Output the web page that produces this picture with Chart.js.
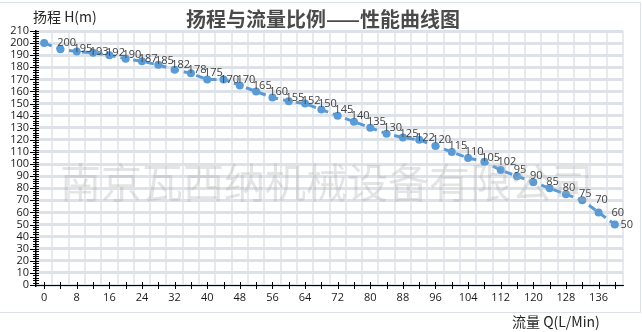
<!DOCTYPE html>
<html>
<head>
<meta charset="utf-8">
<script src="https://cdn.jsdelivr.net/npm/chart.js@4.4.1/dist/chart.umd.min.js"></script>
<style>
html,body{margin:0;padding:0;background:#fff;}
#wrap{position:relative;width:642px;height:332px;overflow:hidden;background:#fff;}
#c{position:absolute;left:0;top:0;}
.frame{position:absolute;left:0;top:2px;width:641px;height:311px;box-sizing:border-box;border:1px solid #DCE1E8;border-left:none;}
.title{position:absolute;left:0;width:646px;top:4px;text-align:center;font:bold 20px "Noto Sans CJK SC",sans-serif;color:#4a4a4a;white-space:nowrap;}
.ytitle{position:absolute;left:33px;top:6px;font:14px "Noto Sans CJK SC","Open Sans",sans-serif;color:#262626;white-space:nowrap;}
.xtitle{position:absolute;left:512px;top:311px;font:14px "Noto Sans CJK SC","Open Sans",sans-serif;color:#262626;white-space:nowrap;}
.wm{position:absolute;left:60px;top:150px;font:41px "Noto Sans CJK SC",sans-serif;color:rgba(170,170,170,0.32);white-space:nowrap;pointer-events:none;}
</style>
</head>
<body>
<div id="wrap">
  <div class="frame"></div>
  <canvas id="c" width="642" height="332"></canvas>
  <div class="title">扬程与流量比例——性能曲线图</div>
  <div class="ytitle">扬程 H(m)</div>
  <div class="xtitle">流量 Q(L/Min)</div>
  <div class="wm">南京瓦西纳机械设备有限公司</div>
</div>
<script>
// ---- data ----
const flowValues = [0,4,8,12,16,20,24,28,32,36,40,44,48,52,56,60,64,68,72,76,80,84,88,92,96,100,104,108,112,116,120,124,128,132,136,140];
const headValues = [200,195,193,192,190,187,185,182,178,175,170,170,165,160,155,152,150,145,140,135,130,125,122,120,115,110,105,102,95,90,85,80,75,70,60,50];
const xTickLabels = [0,8,16,24,32,40,48,56,64,72,80,88,96,104,112,120,128,136];
const yTickLabels = [0,10,20,30,40,50,60,70,80,90,100,110,120,130,140,150,160,170,180,190,200,210];

const points = flowValues.map((x,i)=>({x:x,y:headValues[i]}));

const axisMarks = {
  id:'axisMarks',
  afterDraw(chart){
    const ctx = chart.ctx, xs = chart.scales.x, ys = chart.scales.y;
    const left = chart.chartArea.left, bottom = chart.chartArea.bottom;
    ctx.save();
    ctx.strokeStyle = '#000';
    ctx.lineWidth = 1;
    ctx.beginPath();
    for (let v = 0; v <= 210; v += 2) {
      const py = Math.round(ys.getPixelForValue(v)) + 0.5;
      ctx.moveTo(left - 3, py); ctx.lineTo(left + 3, py);
    }
    yTickLabels.forEach(v=>{
      const py = Math.round(ys.getPixelForValue(v)) + 0.5;
      ctx.moveTo(left - 6, py); ctx.lineTo(left, py);
    });
    for (let v = 0; v <= 140; v += 4) {
      const px = Math.round(xs.getPixelForValue(v)) + 0.5;
      ctx.moveTo(px, bottom - 3); ctx.lineTo(px, bottom + 4);
    }
    ctx.moveTo(left - 3, bottom + 0.5); ctx.lineTo(left, bottom + 0.5);
    ctx.stroke();
    ctx.restore();
  }
};

const valueLabels = {
  id:'valueLabels',
  afterDatasetsDraw(chart){
    const ctx = chart.ctx;
    const meta = chart.getDatasetMeta(0);
    ctx.save();
    ctx.font = '11px "Open Sans", sans-serif';
    ctx.fillStyle = '#404040';
    ctx.textBaseline = 'middle';
    ctx.textAlign = 'left';
    meta.data.forEach((pt,i)=>{
      const txt = String(headValues[i]);
      const w = ctx.measureText(txt).width;
      let x = pt.x + 13;
      if (x + w > chart.width - 9) x = chart.width - 9 - w;
      ctx.fillText(txt, x, pt.y);
    });
    ctx.restore();
  }
};

new Chart(document.getElementById('c'), {
  type:'line',
  data:{
    datasets:[{
      data: points,
      borderColor:'#5B9BD5',
      backgroundColor:'#5B9BD5',
      borderWidth:3,
      borderDash:[8,5],
      pointRadius:4,
      pointBackgroundColor:'#5B9BD5',
      pointBorderColor:'#5B9BD5',
      pointBorderWidth:0,
      tension:0,
      fill:false
    }]
  },
  options:{
    responsive:false,
    animation:false,
    events:[],
    layout:{padding:{top:31,right:19,bottom:0,left:0}},
    plugins:{legend:{display:false},tooltip:{enabled:false},title:{display:false}},
    scales:{
      x:{
        type:'linear',
        min:-2, max:142,
        afterFit(s){ s.height = 47; },
        afterBuildTicks(s){ s.ticks = flowValues.map(v=>({value:v})); },
        ticks:{
          autoSkip:false, maxRotation:0, padding:2,
          color:'#1a1a1a',
          font:{family:'"Open Sans", sans-serif', size:11},
          callback:(v)=> xTickLabels.includes(v) ? String(v) : ''
        },
        grid:{offset:true, color:'#E6E9EE', lineWidth:2, tickColor:'rgba(0,0,0,0)', tickLength:4, drawOnChartArea:true},
        border:{color:'#000', width:1}
      },
      y:{
        min:0, max:210,
        afterFit(s){ s.width = 36; },
        afterBuildTicks(s){ s.ticks = yTickLabels.map(v=>({value:v})); },
        ticks:{
          autoSkip:false,
          padding:1,
          color:'#1a1a1a',
          font:{family:'"Open Sans", sans-serif', size:11},
          callback:(v)=> String(v)
        },
        grid:{color:'#DDE1E8', lineWidth:3, tickColor:'rgba(0,0,0,0)', tickLength:6},
        border:{color:'#000', width:1.5}
      }
    }
  },
  plugins:[axisMarks, valueLabels]
});
</script>
</body>
</html>
